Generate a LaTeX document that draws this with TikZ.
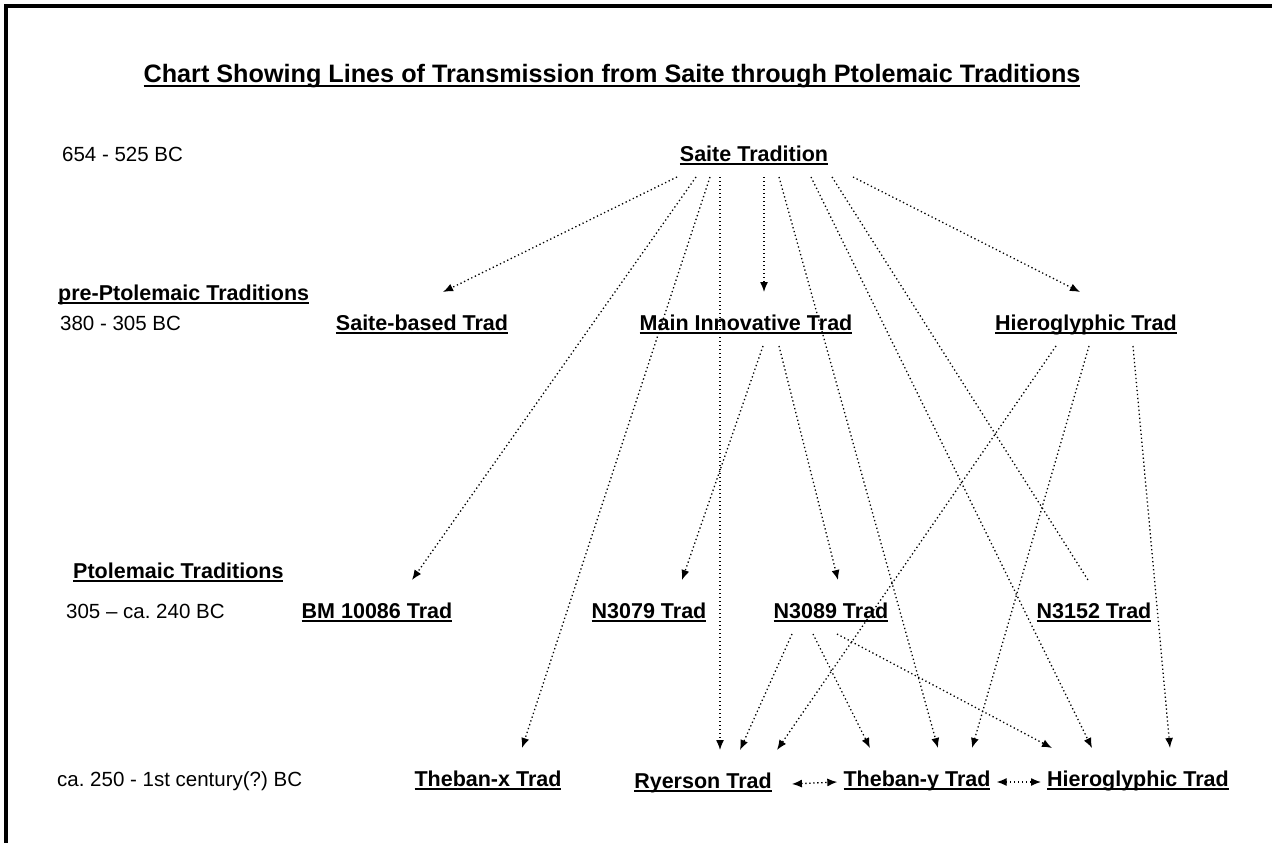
\documentclass[tikz,border=0pt]{standalone}
\usepackage{fontspec}
\setmainfont{Liberation Sans}
\usetikzlibrary{arrows.meta}
\newcommand{\uln}[1]{\setbox0=\hbox{#1}\rlap{\vrule height -2pt depth 4pt width \wd0}\box0}
\frenchspacing

\begin{document}
\begin{tikzpicture}[x=1pt,y=-1pt,
  every node/.style={inner sep=0pt,font=\fontsize{21.5}{26}\selectfont},
  trad/.style={font=\fontsize{21.5}{26}\selectfont\bfseries,anchor=base,
    text height=28pt,text depth=6pt,outer ysep=10pt},
  period/.style={anchor=base west,font=\fontsize{20.5}{25}\selectfont},
  >={Latex[length=10pt,width=8pt]},
  link/.style={line width=1.3pt,dash pattern=on 1.3pt off 2.7pt,->}]
\useasboundingbox (0,0) rectangle (1272,843);
\draw[line width=3.5pt] (6,843) -- (6,6) -- (1272,6);

\node[trad,font=\fontsize{25.2}{30}\selectfont\bfseries] (title) at (612,83) {\uln{Chart Showing Lines of Transmission from Saite through Ptolemaic Traditions}};

\node[period] (p1) at (62,161) {654 - 525 BC};
\node[trad] (saite) at (754,161) {\uln{Saite Tradition}};

\node[trad,anchor=base west] (pre) at (58,300) {\uln{pre-Ptolemaic Traditions}};
\node[period] (p2) at (60,330) {380 - 305 BC};
\node[trad] (sbased) at (422,330) {\uln{Saite-based Trad}};
\node[trad] (innov) at (746,330) {\uln{Main Innovative Trad}};
\node[trad] (hieroA) at (1086,330) {\uln{Hieroglyphic Trad}};

\node[trad,anchor=base west] (ptol) at (73,578) {\uln{Ptolemaic Traditions}};
\node[period] (p3) at (66,618) {305 -- ca. 240 BC};
\node[trad] (bm) at (377,618) {\uln{BM 10086 Trad}};
\node[trad] (nA) at (649,618) {\uln{N3079 Trad}};
\node[trad] (nB) at (831,618) {\uln{N3089 Trad}};
\node[trad] (nC) at (1094,618) {\uln{N3152 Trad}};

\node[period] (p4) at (57,786) {ca. 250 - 1st century(?) BC};
\node[trad] (thebx) at (488,786) {\uln{Theban-x Trad}};
\node[trad] (ryer) at (703,788) {\uln{Ryerson Trad}};
\node[trad] (theby) at (917,786) {\uln{Theban-y Trad}};
\node[trad] (hieroB) at (1138,786) {\uln{Hieroglyphic Trad}};

\path [link]

([xshift=-77pt]saite.south) edge ([xshift=21pt]sbased.north)

([xshift=-58pt]saite.south) edge ([xshift=35pt]bm.north)

([xshift=-44pt]saite.south) edge ([xshift=34pt]thebx.north)

([xshift=-34pt]saite.south) edge ([xshift=17pt]ryer.north)

([xshift=10pt]saite.south) edge ([xshift=18pt]innov.north)

([xshift=25pt]saite.south) edge ([xshift=21pt]theby.north)

([xshift=57pt]saite.south) edge ([xshift=-46pt]hieroB.north)

([xshift=78pt]saite.south) edge [-] ([xshift=-6pt]nC.north)

([xshift=99pt]saite.south) edge ([xshift=-6pt]hieroA.north)

([xshift=17pt]innov.south) edge ([xshift=33pt]nA.north)

([xshift=33pt]innov.south) edge ([xshift=7pt]nB.north)

([xshift=-30pt]hieroA.south) edge ([xshift=74pt]ryer.north)

([xshift=3pt]hieroA.south) edge ([xshift=55pt]theby.north)

([xshift=47pt]hieroA.south) edge ([xshift=32pt]hieroB.north)

([xshift=-39pt]nB.south) edge ([xshift=37pt]ryer.north)

([xshift=-18pt]nB.south) edge ([xshift=-47pt]theby.north)

([xshift=6pt]nB.south) edge ([xshift=-86pt]hieroB.north)

([xshift=20pt,yshift=4pt]ryer.base east) edge [<->] ([xshift=-6pt,yshift=4pt]theby.base west)

([xshift=6pt,yshift=4pt]theby.base east) edge [<->] ([xshift=-6pt,yshift=4pt]hieroB.base west)

;
\end{tikzpicture}
\end{document}
